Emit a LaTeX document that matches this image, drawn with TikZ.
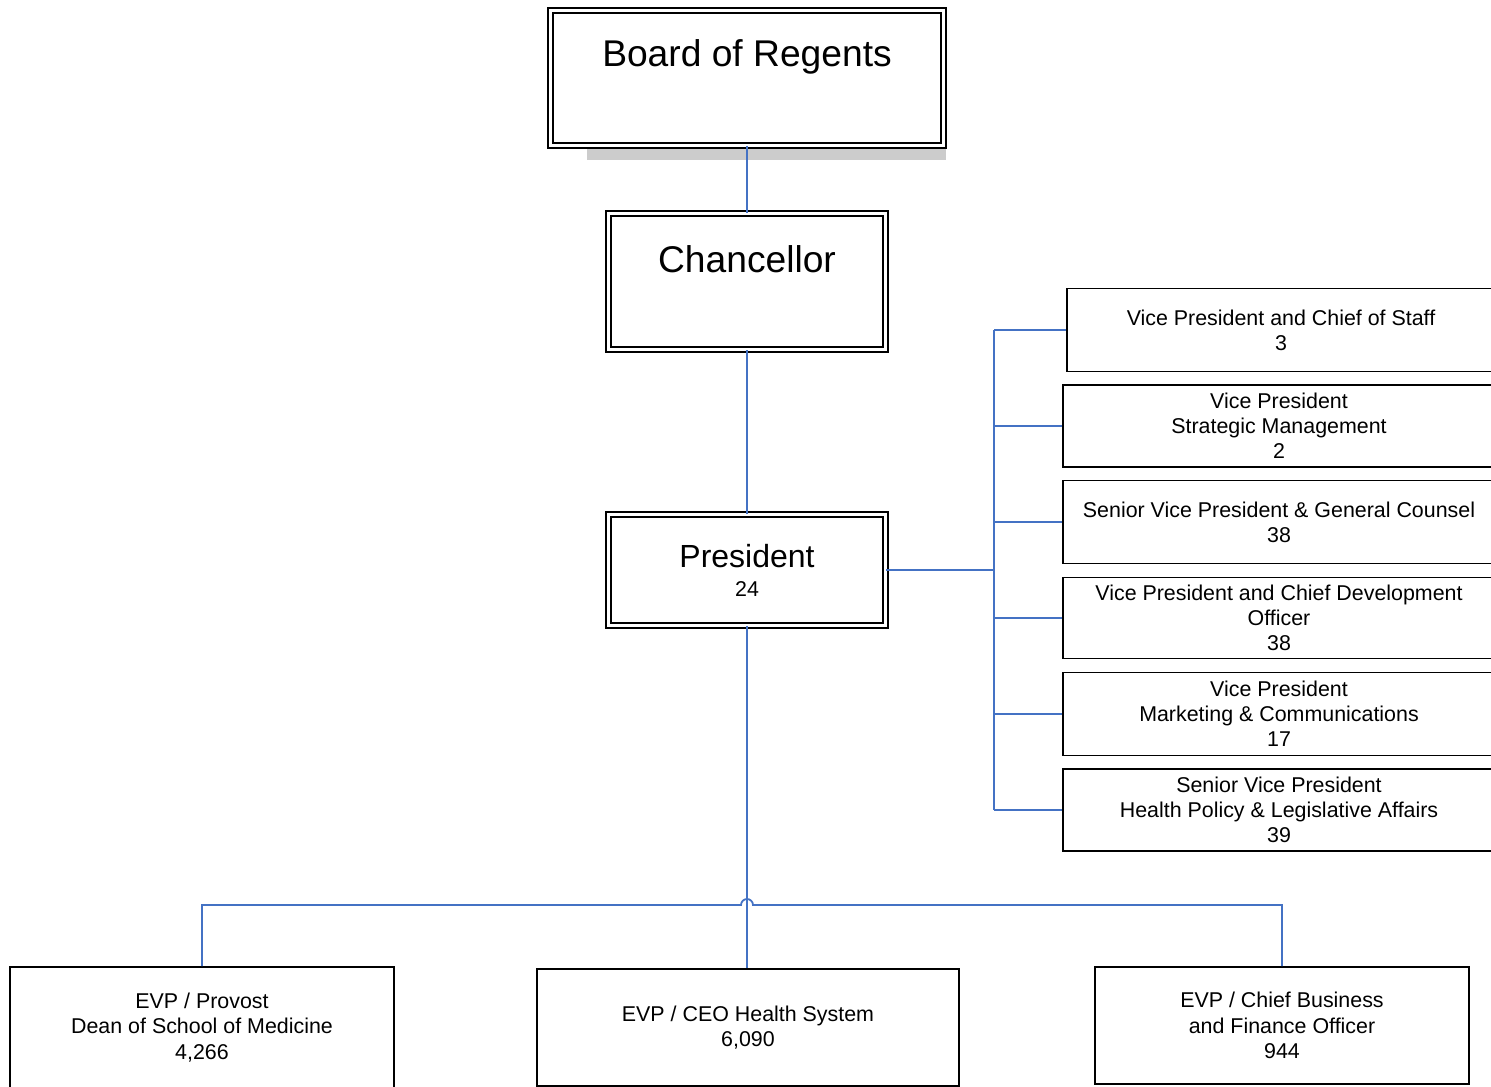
\documentclass[tikz,border=0pt]{standalone}
\usepackage{fontspec}
\setmainfont{Liberation Sans}
\definecolor{conncol}{RGB}{68,114,196}
\begin{document}
\begin{tikzpicture}[x=0.5pt,y=-0.5pt,
  dbox/.style={draw, line width=0.75pt, double, double distance=1.75pt, inner sep=0pt},
  rbox/.style={draw, line width=0.9pt, align=center, inner sep=0pt, minimum height=41pt,
    font=\fontsize{10.7}{12.6}\selectfont},
  bbox/.style={draw, line width=0.9pt, align=center, inner sep=0pt,
    font=\fontsize{10.7}{12.6}\selectfont},
  bigtext/.style={anchor=base, font=\fontsize{18.6}{22}\selectfont},
  conn/.style={draw=conncol, line width=0.9pt}]
\useasboundingbox (0,0) rectangle (1491,1086);
\clip (0,0) rectangle (1491,1086);
% shadow
\fill[black!20] (587,148) rectangle (946,160);
% top boxes
\node[dbox, minimum width=196.5pt, minimum height=67.5pt] (board) at (747,78) {};
\node[bigtext] (boardt) at (747,67) {Board of Regents};
\node[dbox, minimum width=138.5pt, minimum height=68pt] (chan) at (747,281.5) {};
\node[bigtext] (chant) at (747,272) {Chancellor};
\node[dbox, minimum width=138.5pt, minimum height=55.5pt] (pres) at (747,570) {};
\node[anchor=base, font=\fontsize{16}{19}\selectfont] (prest) at (747,567) {President};
\node[anchor=base, font=\fontsize{10.7}{12.6}\selectfont] (presn) at (747,596) {24};
% right boxes
\node[rbox, minimum width=214pt, minimum height=41.5pt] (v1) at (1281,330) {Vice President and Chief of Staff\\3};
\node[rbox, minimum width=216pt] (v2) at (1279,426) {Vice President\\Strategic Management\\2};
\node[rbox, minimum width=216pt, minimum height=41.5pt] (v3) at (1279,522) {Senior Vice President \& General Counsel\\38};
\node[rbox, minimum width=216pt, minimum height=40.5pt] (v4) at (1279,618) {Vice President and Chief Development\\Officer\\38};
\node[rbox, minimum width=216pt, minimum height=41.5pt] (v5) at (1279,714) {Vice President\\Marketing \& Communications\\17};
\node[rbox, minimum width=216pt] (v6) at (1279,810) {Senior Vice President\\Health Policy \& Legislative Affairs\\39};
% bottom boxes
\node[bbox, minimum width=192pt, minimum height=60.5pt] (b1) at (202,1027.5) {EVP / Provost\\Dean of School of Medicine\\4,266};
\node[bbox, minimum width=211pt, minimum height=58.5pt] (b2) at (748,1027.5) {EVP / CEO Health System\\6,090};
\node[bbox, minimum width=187pt, minimum height=58.5pt] (b3) at (1282,1025.5) {EVP / Chief Business\\and Finance Officer\\944};
% connectors
\draw[conn] (board.south) -- (chan.north);
\draw[conn] (chan.south) -- (pres.north);
\coordinate (rt) at (994,570);
\draw[conn] (pres.east) -- (rt);
\draw[conn] (rt |- v1.west) -- (rt |- v6.west);
\foreach \v in {v1,v2,v3,v4,v5,v6} \draw[conn] (rt |- \v.west) -- (\v.west);
\coordinate (bus) at (747,905);
\draw[conn] (pres.south) -- (pres.south |- b2.north);
\draw[conn] (b1.north) -- (b1.north |- bus) -- ([xshift=-3pt]bus)
  arc[start angle=180, end angle=0, radius=3pt] -- (b3.north |- bus) -- (b3.north);
\end{tikzpicture}
\end{document}
